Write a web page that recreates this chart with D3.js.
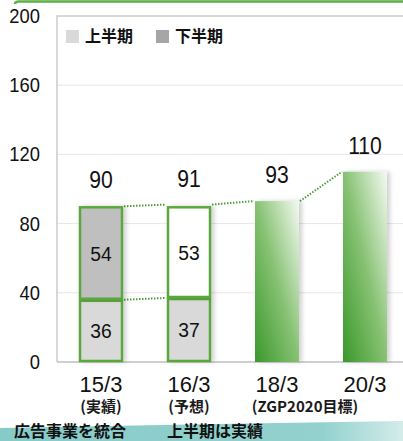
<!DOCTYPE html>
<html>
<head>
  <meta charset="utf-8">
  <script src="https://d3js.org/d3.v7.min.js"></script>
  <style>
    body { margin: 0; background: #fff; }
    text { font-family: "Liberation Sans", Arial, sans-serif; }
    .jp { font-family: "Noto Sans CJK JP", sans-serif; font-weight: bold; }
  </style>
</head>
<body>
  <div id="my_dataviz"></div>
  <script>
    // data
    var categories = ["15/3", "16/3", "18/3", "20/3"];
    var subLabels = ["(実績)", "(予想)", "(ZGP2020目標)"];
    var firstHalf = [36, 37, null, null];
    var secondHalf = [54, 53, null, null];
    var totals = [90, 91, 93, 110];
    var yTicks = [0, 40, 80, 120, 160, 200];
    var legendNames = ["上半期", "下半期"];
    var notes = ["広告事業を統合", "上半期は実績"];

    var W = 403, H = 441;
    var plotLeft = 57, plotRight = 409, plotTop = 16, plotBottom = 362;

    var svg = d3.select("#my_dataviz")
      .append("svg")
      .attr("width", W)
      .attr("height", H);

    var defs = svg.append("defs");
    var grad = defs.append("linearGradient")
      .attr("id", "greenGrad")
      .attr("x1", "0").attr("y1", "1")
      .attr("x2", "1").attr("y2", "0");
    grad.append("stop").attr("offset", "0%").attr("stop-color", "#3a982a");
    grad.append("stop").attr("offset", "50%").attr("stop-color", "#86c172");
    grad.append("stop").attr("offset", "100%").attr("stop-color", "#f4faf1");

    var teal = defs.append("linearGradient")
      .attr("id", "tealGrad")
      .attr("x1", "0").attr("x2", "1").attr("y1", "0").attr("y2", "0");
    teal.append("stop").attr("offset", "0%").attr("stop-color", "#86cbc8");
    teal.append("stop").attr("offset", "80%").attr("stop-color", "#93d1ce");
    teal.append("stop").attr("offset", "100%").attr("stop-color", "#d3ecea");

    var shadow = defs.append("filter").attr("id", "shadow")
      .attr("x", "-20%").attr("y", "-10%").attr("width", "150%").attr("height", "120%");
    shadow.append("feDropShadow")
      .attr("dx", 3).attr("dy", 0).attr("stdDeviation", 2)
      .attr("flood-color", "#000").attr("flood-opacity", 0.18);

    // green frame line at the top (edge of a box above)
    svg.append("path")
      .attr("d", "M15,4 Q15,1.5 19,1.5 L403,1.5")
      .attr("fill", "none")
      .attr("stroke", "#5cb045")
      .attr("stroke-width", 2.5);

    // bottom teal band
    svg.append("path")
      .attr("d", "M0,428 Q200,424 403,421 L403,441 L0,441 Z")
      .attr("fill", "url(#tealGrad)");

    // scales
    var x = d3.scaleBand()
      .domain(categories)
      .range([plotLeft, plotRight])
      .paddingInner(0.5)
      .paddingOuter(0.25);

    var y = d3.scaleLinear()
      .domain([0, 200])
      .range([plotBottom, plotTop]);

    // grid
    svg.append("g")
      .selectAll("line")
      .data(yTicks.filter(function(d) { return d > 0 && d < 200; }))
      .enter()
      .append("line")
      .attr("x1", plotLeft).attr("x2", W)
      .attr("y1", function(d) { return y(d); })
      .attr("y2", function(d) { return y(d); })
      .attr("stroke", "#e6e6e6")
      .attr("stroke-width", 1);

    // frame
    svg.append("path")
      .attr("d", "M" + plotLeft + "," + plotBottom + "V" + plotTop + "H" + W)
      .attr("fill", "none")
      .attr("stroke", "#cccccc")
      .attr("stroke-width", 1.5);
    svg.append("line")
      .attr("x1", plotLeft).attr("x2", W)
      .attr("y1", plotBottom).attr("y2", plotBottom)
      .attr("stroke", "#bfbfbf")
      .attr("stroke-width", 1.5);

    // y axis
    var yAxis = svg.append("g")
      .attr("transform", "translate(" + (plotLeft - 17) + ",0)")
      .call(d3.axisLeft(y).tickValues(yTicks).tickSize(0).tickPadding(0));
    yAxis.select(".domain").remove();
    yAxis.selectAll("text")
      .attr("font-family", null)
      .attr("transform", "scale(0.92,1)")
      .style("font-size", "20px")
      .style("fill", "#111");

    var bw = x.bandwidth();

    // dotted connectors between bar tops
    var links = [];
    for (var i = 0; i < categories.length - 1; i++) {
      links.push({ x1: x(categories[i]) + bw, y1: y(totals[i]),
                   x2: x(categories[i + 1]), y2: y(totals[i + 1]) });
      if (firstHalf[i] != null && firstHalf[i + 1] != null) {
        links.push({ x1: x(categories[i]) + bw, y1: y(firstHalf[i]),
                     x2: x(categories[i + 1]), y2: y(firstHalf[i + 1]) });
      }
    }
    svg.append("g")
      .selectAll("line")
      .data(links)
      .enter()
      .append("line")
      .attr("x1", function(d) { return d.x1 + 1; })
      .attr("y1", function(d) { return d.y1; })
      .attr("x2", function(d) { return d.x2 - 1; })
      .attr("y2", function(d) { return d.y2; })
      .attr("stroke", "#4f9e3a")
      .attr("stroke-width", 2)
      .attr("stroke-dasharray", "1.5,1.5");

    // gradient bars (targets)
    var idx = d3.range(categories.length);
    svg.append("g")
      .selectAll("rect")
      .data(idx.filter(function(i) { return firstHalf[i] == null; }))
      .enter()
      .append("rect")
      .attr("x", function(i) { return x(categories[i]); })
      .attr("y", function(i) { return y(totals[i]); })
      .attr("width", bw)
      .attr("height", function(i) { return y(0) - y(totals[i]); })
      .attr("fill", "url(#greenGrad)")
      .attr("filter", "url(#shadow)");

    // stacked bars
    var stacked = idx.filter(function(i) { return firstHalf[i] != null; });
    var segs = [];
    stacked.forEach(function(i) {
      segs.push({ i: i, y0: 0, y1: firstHalf[i], v: firstHalf[i], fill: "#d9d9d9" });
      segs.push({ i: i, y0: firstHalf[i], y1: firstHalf[i] + secondHalf[i], v: secondHalf[i],
                  fill: i === 0 ? "#bfbfbf" : "#ffffff" });
    });
    var sg = svg.append("g");
    sg.selectAll("rect")
      .data(segs)
      .enter()
      .append("rect")
      .attr("x", function(d) { return x(categories[d.i]) + 1; })
      .attr("y", function(d) { return y(d.y1) + 1; })
      .attr("width", bw - 2)
      .attr("height", function(d) { return y(d.y0) - y(d.y1) - 2; })
      .attr("fill", function(d) { return d.fill; })
      .attr("stroke", "#5aa83e")
      .attr("stroke-width", 2.5)
      .attr("filter", "url(#shadow)");
    sg.selectAll("text")
      .data(segs)
      .enter()
      .append("text")
      .attr("transform", function(d) {
        return "translate(" + (x(categories[d.i]) + bw / 2) + "," +
          ((y(d.y0) + y(d.y1)) / 2 + 7.5) + ") scale(0.92,1)";
      })
      .attr("text-anchor", "middle")
      .style("font-size", "21px")
      .style("fill", "#111")
      .text(function(d) { return d.v; });

    // total labels
    svg.append("g")
      .selectAll("text")
      .data(idx)
      .enter()
      .append("text")
      .attr("transform", function(i) {
        return "translate(" + (x(categories[i]) + bw / 2) + "," + (y(totals[i]) - 18) + ") scale(0.88,1)";
      })
      .attr("text-anchor", "middle")
      .style("font-size", "24px")
      .style("fill", "#111")
      .text(function(i) { return totals[i]; });

    // x labels
    var xAxis = svg.append("g")
      .attr("transform", "translate(0," + plotBottom + ")")
      .call(d3.axisBottom(x).tickSize(0).tickPadding(0));
    xAxis.select(".domain").remove();
    xAxis.selectAll("text")
      .attr("font-family", null)
      .attr("dy", null)
      .attr("y", 30)
      .style("font-size", "22px")
      .style("fill", "#111");

    var subX = [x(categories[0]) + bw / 2, x(categories[1]) + bw / 2,
                (x(categories[2]) + x(categories[3]) + bw) / 2 - 16];
    svg.append("g")
      .selectAll("text")
      .data(subLabels)
      .enter()
      .append("text")
      .attr("class", "jp")
      .attr("x", function(d, i) { return subX[i]; })
      .attr("y", 412)
      .attr("text-anchor", "middle")
      .style("font-size", "15px")
      .style("fill", "#1a1a1a")
      .text(function(d) { return d; });

    // notes
    svg.append("g")
      .selectAll("text")
      .data(notes)
      .enter()
      .append("text")
      .attr("class", "jp")
      .attr("x", function(d, i) { return [14, 167][i]; })
      .attr("y", 437)
      .style("font-size", "16px")
      .style("fill", "#111")
      .text(function(d) { return d; });

    // legend
    var legendColors = ["#d9d9d9", "#a6a6a6"];
    var lg = svg.append("g")
      .selectAll("g")
      .data(legendNames)
      .enter()
      .append("g")
      .attr("transform", function(d, i) { return "translate(" + [66, 156][i] + ",30)"; });
    lg.append("rect")
      .attr("width", 13).attr("height", 13)
      .attr("fill", function(d, i) { return legendColors[i]; });
    lg.append("text")
      .attr("class", "jp")
      .attr("x", 19)
      .attr("y", 12)
      .style("font-size", "16px")
      .style("fill", "#111")
      .text(function(d) { return d; });
  </script>
</body>
</html>
